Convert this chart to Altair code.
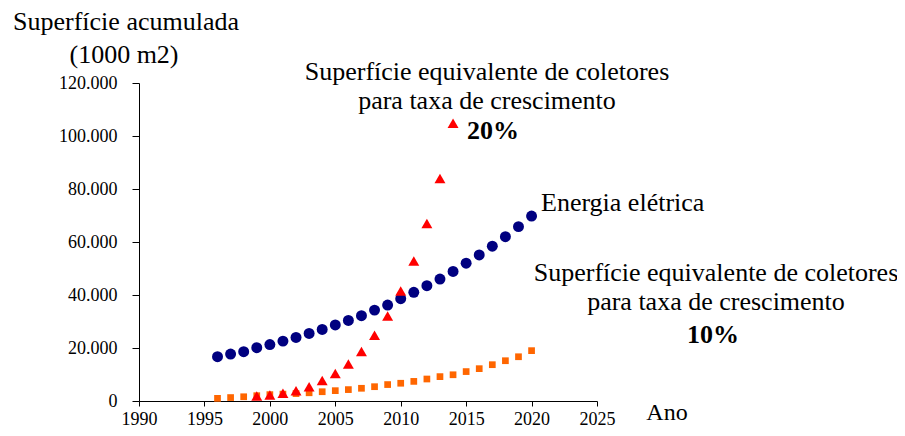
import altair as alt
import pandas as pd

years_energy = list(range(1996, 2021))
energy = [16.7, 17.7, 18.6, 20.1, 21.3, 22.6, 24.0, 25.5, 27.0, 28.7, 30.4, 32.2, 34.3,
          36.2, 38.6, 41.0, 43.5, 46.0, 48.9, 52.0, 55.1, 58.4, 62.0, 65.8, 69.8]

years_20 = list(range(1999, 2015))
rate20 = [1.9, 2.3, 2.9, 3.9, 5.4, 7.7, 10.4, 14.0, 18.7, 24.8, 32.1, 41.5, 52.8, 67.0, 84.0, 104.8]

years_10 = list(range(1996, 2021))
rate10 = [1.0, 1.3, 1.6, 2.0, 2.4, 2.6, 2.8, 3.1, 3.5, 3.9, 4.3, 4.8, 5.4, 6.2, 6.7, 7.4,
          8.3, 9.2, 9.9, 11.1, 12.2, 13.7, 15.2, 16.7, 19.0]

df_e = pd.DataFrame({"ano": years_energy, "v": [x * 1000 for x in energy]})
df_20 = pd.DataFrame({"ano": years_20, "v": [x * 1000 for x in rate20]})
df_10 = pd.DataFrame({"ano": years_10, "v": [x * 1000 for x in rate10]})

FONT = "Liberation Serif"
W, H = 458, 318

xs = alt.Scale(domain=[1990, 2025], nice=False)
ys = alt.Scale(domain=[0, 120000], nice=False)

xaxis = alt.Axis(values=list(range(1990, 2030, 5)), format="d", title=None, grid=False,
                 domainColor="black", tickColor="black", tickSize=5, labelFont=FONT,
                 labelFontSize=18, labelColor="black", labelPadding=4, labelFlush=False)
yaxis = alt.Axis(values=list(range(0, 140000, 20000)), title=None, grid=False,
                 domainColor="black", tickColor="black", tickSize=7, labelFont=FONT,
                 labelFontSize=18, labelColor="black", labelPadding=15,
                 labelExpr="replace(format(datum.value, ','), ',', '.')")

energy_pts = alt.Chart(df_e).mark_point(shape="circle", filled=True, size=120, color="#000080", opacity=1).encode(
    x=alt.X("ano:Q", scale=xs, axis=xaxis),
    y=alt.Y("v:Q", scale=ys, axis=yaxis),
)
pts20 = alt.Chart(df_20).mark_point(shape="triangle-up", filled=True, size=120, color="#FF0000", opacity=1).encode(
    x=alt.X("ano:Q", scale=xs), y=alt.Y("v:Q", scale=ys)
)
pts10 = alt.Chart(df_10).mark_point(shape="square", filled=True, size=45, color="#FF6600", opacity=1).encode(
    x=alt.X("ano:Q", scale=xs), y=alt.Y("v:Q", scale=ys)
)

labels = pd.DataFrame({
    "t": ["Superfície acumulada", "(1000 m2)",
          "Superfície equivalente de coletores", "para taxa de crescimento",
          "Energia elétrica",
          "Superfície equivalente de coletores", "para taxa de crescimento",
          "Ano"],
    "px": [126, 124, 487, 487, 541, 716, 716, 667],
    "py": [22, 55, 72, 101, 203, 273, 302, 413],
    "al": ["center", "center", "center", "center", "left", "center", "center", "center"],
    "fs": [26, 26, 26, 26, 26, 26, 26, 24],
})

texts = []
for _, r in labels.iterrows():
    texts.append(alt.Chart(pd.DataFrame({"t": [r["t"]]})).mark_text(
        font=FONT, fontSize=int(r["fs"]), color="black", align=r["al"], baseline="middle"
    ).encode(text="t:N", x=alt.value(int(r["px"]) - 139), y=alt.value(int(r["py"]) - 83)))

bold = []
for t, px, py in [("20%", 493, 131), ("10%", 713, 335)]:
    bold.append(alt.Chart(pd.DataFrame({"t": [t]})).mark_text(
        font=FONT, fontSize=26, fontWeight="bold", color="black", align="center", baseline="middle"
    ).encode(text="t:N", x=alt.value(px - 139), y=alt.value(py - 83)))

chart = alt.layer(energy_pts, pts10, pts20, *texts, *bold).properties(
    width=W, height=H,
    background="white",
    autosize=alt.AutoSizeParams(type="none"),
    padding={"left": 131, "top": 75, "right": 300, "bottom": 27},
).configure_view(strokeWidth=0, stroke="transparent")

chart.save("out.html", embed_options={"renderer": "svg", "actions": False})
